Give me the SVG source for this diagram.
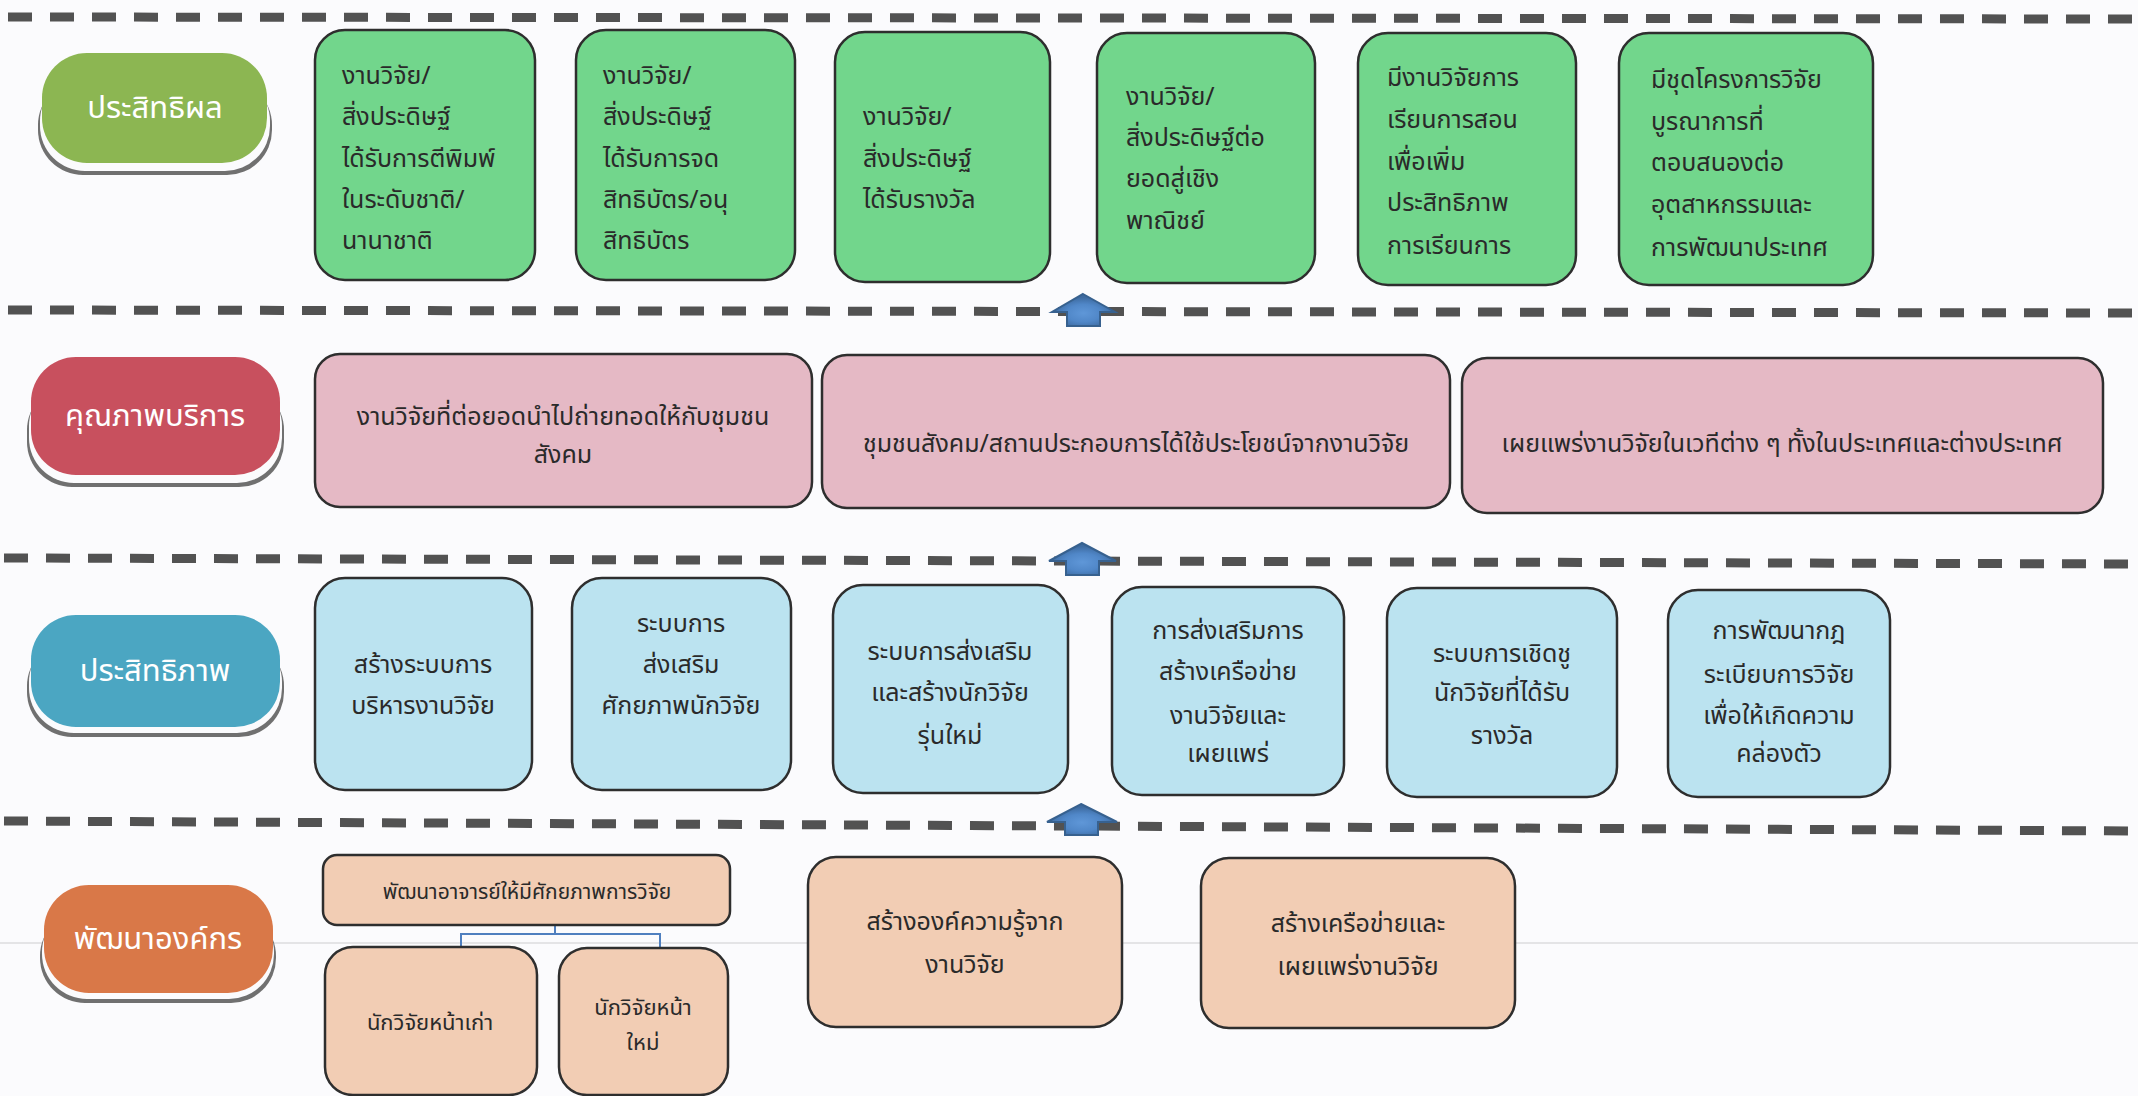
<svg xmlns="http://www.w3.org/2000/svg" width="2138" height="1096" viewBox="0 0 2138 1096">
<defs>
<style>
.t{font-family:"Noto Sans Thai","Noto Sans",Loma,Garuda,sans-serif;font-size:25px;fill:#2a2a2a}
.c{text-anchor:middle}
.pl{font-family:"Noto Sans Thai","Noto Sans",Loma,Garuda,sans-serif;font-size:31px;fill:#ffffff;text-anchor:middle}
.g{fill:#72d68c;stroke:#2e2e2e;stroke-width:2.5}
.p{fill:#e5b9c5;stroke:#2e2e2e;stroke-width:2.5}
.b{fill:#bbe3f0;stroke:#2e2e2e;stroke-width:2.5}
.o{fill:#f2cdb4;stroke:#2e2e2e;stroke-width:2.5}
.dash{stroke:#525252;stroke-width:9;stroke-dasharray:24 18;fill:none}
.sh{fill:#707070}
.shw{fill:#fbfbfd}
.arr{fill:url(#ag);stroke:#37618f;stroke-width:2}
.tree{stroke:#4f7fbf;stroke-width:2;fill:none}
</style>
<radialGradient id="ag" cx="0.5" cy="0.6" r="0.5">
<stop offset="0" stop-color="#5f97d8"/>
<stop offset="0.55" stop-color="#5087c8"/>
<stop offset="1" stop-color="#3d6a9f"/>
</radialGradient>
</defs>
<rect width="2138" height="1096" fill="#fbfbfd"/>
<line x1="0" y1="943" x2="2138" y2="943" stroke="#e4e4e6" stroke-width="2"/>

<g id="dividers">
<line class="dash" x1="8" y1="17" x2="2138" y2="19"/>
<line class="dash" x1="8" y1="310" x2="2138" y2="313"/>
<line class="dash" x1="4" y1="558" x2="2138" y2="564"/>
<line class="dash" x1="4" y1="821" x2="2138" y2="831"/>
</g>

<g id="connectors">
<path class="arr" d="M1083,294 L1115,312 L1100,312 L1100,326 L1067,326 L1067,312 L1052,312 Z"/>
<path class="arr" d="M1082,543 L1116,561 L1099,561 L1099,575 L1066,575 L1066,561 L1049,561 Z"/>
<path class="arr" d="M1081,804 L1117,822 L1098,822 L1098,835 L1065,835 L1065,822 L1047,822 Z"/>
<path class="tree" d="M555,925 V934 M461,947 V934 H660 V948"/>
</g>

<!-- Row 1 -->
<g id="label-prasitthiphon">
<rect class="sh" x="38" y="80" width="234" height="95" rx="45"/>
<rect class="shw" x="40" y="76" width="230" height="95" rx="45"/>
<rect x="42" y="53" width="225" height="110" rx="45" fill="#8cb652"/>
<text class="pl" x="155" y="118">ประสิทธิผล</text>
</g>
<g id="n1-1">
<rect class="g" x="315" y="30" width="220" height="250" rx="30"/>
<text class="t"><tspan x="342" y="84">งานวิจัย/</tspan><tspan x="342" y="125">สิ่งประดิษฐ์</tspan><tspan x="342" y="167">ได้รับการตีพิมพ์</tspan><tspan x="342" y="208">ในระดับชาติ/</tspan><tspan x="342" y="249">นานาชาติ</tspan></text>
</g>
<g id="n1-2">
<rect class="g" x="576" y="30" width="219" height="250" rx="30"/>
<text class="t"><tspan x="603" y="84">งานวิจัย/</tspan><tspan x="603" y="125">สิ่งประดิษฐ์</tspan><tspan x="603" y="167">ได้รับการจด</tspan><tspan x="603" y="208">สิทธิบัตร/อนุ</tspan><tspan x="603" y="249">สิทธิบัตร</tspan></text>
</g>
<g id="n1-3">
<rect class="g" x="835" y="32" width="215" height="250" rx="30"/>
<text class="t"><tspan x="863" y="125">งานวิจัย/</tspan><tspan x="863" y="167">สิ่งประดิษฐ์</tspan><tspan x="863" y="208">ได้รับรางวัล</tspan></text>
</g>
<g id="n1-4">
<rect class="g" x="1097" y="33" width="218" height="250" rx="30"/>
<text class="t"><tspan x="1126" y="105">งานวิจัย/</tspan><tspan x="1126" y="146">สิ่งประดิษฐ์ต่อ</tspan><tspan x="1126" y="187">ยอดสู่เชิง</tspan><tspan x="1126" y="229">พาณิชย์</tspan></text>
</g>
<g id="n1-5">
<rect class="g" x="1358" y="33" width="218" height="252" rx="30"/>
<text class="t"><tspan x="1387" y="86">มีงานวิจัยการ</tspan><tspan x="1387" y="128">เรียนการสอน</tspan><tspan x="1387" y="170">เพื่อเพิ่ม</tspan><tspan x="1387" y="211">ประสิทธิภาพ</tspan><tspan x="1387" y="254">การเรียนการ</tspan></text>
</g>
<g id="n1-6">
<rect class="g" x="1619" y="33" width="254" height="252" rx="30"/>
<text class="t"><tspan x="1651" y="88">มีชุดโครงการวิจัย</tspan><tspan x="1651" y="130">บูรณาการที่</tspan><tspan x="1651" y="171">ตอบสนองต่อ</tspan><tspan x="1651" y="213">อุตสาหกรรมและ</tspan><tspan x="1651" y="256">การพัฒนาประเทศ</tspan></text>
</g>

<!-- Row 2 -->
<g id="label-khunnaphap">
<rect class="sh" x="27" y="385" width="257" height="102" rx="45"/>
<rect class="shw" x="29" y="381" width="253" height="102" rx="45"/>
<rect x="31" y="357" width="249" height="118" rx="45" fill="#c8505e"/>
<text class="pl" x="155" y="426">คุณภาพบริการ</text>
</g>
<g id="n2-1">
<rect class="p" x="315" y="354" width="497" height="153" rx="25"/>
<text class="t c"><tspan x="563" y="425">งานวิจัยที่ต่อยอดนำไปถ่ายทอดให้กับชุมชน</tspan><tspan x="563" y="463">สังคม</tspan></text>
</g>
<g id="n2-2">
<rect class="p" x="822" y="355" width="628" height="153" rx="25"/>
<text class="t c" x="1136" y="452">ชุมชนสังคม/สถานประกอบการได้ใช้ประโยชน์จากงานวิจัย</text>
</g>
<g id="n2-3">
<rect class="p" x="1462" y="358" width="641" height="155" rx="25"/>
<text class="t c" x="1782" y="452">เผยแพร่งานวิจัยในเวทีต่าง ๆ ทั้งในประเทศและต่างประเทศ</text>
</g>

<!-- Row 3 -->
<g id="label-prasitthiphap">
<rect class="sh" x="27" y="641" width="257" height="96" rx="45"/>
<rect class="shw" x="29" y="637" width="253" height="96" rx="45"/>
<rect x="31" y="615" width="249" height="112" rx="45" fill="#4ba6c2"/>
<text class="pl" x="155" y="681">ประสิทธิภาพ</text>
</g>
<g id="n3-1">
<rect class="b" x="315" y="578" width="217" height="212" rx="30"/>
<text class="t c"><tspan x="423" y="673">สร้างระบบการ</tspan><tspan x="423" y="714">บริหารงานวิจัย</tspan></text>
</g>
<g id="n3-2">
<rect class="b" x="572" y="578" width="219" height="212" rx="30"/>
<text class="t c"><tspan x="681" y="632">ระบบการ</tspan><tspan x="681" y="673">ส่งเสริม</tspan><tspan x="681" y="714">ศักยภาพนักวิจัย</tspan></text>
</g>
<g id="n3-3">
<rect class="b" x="833" y="585" width="235" height="208" rx="30"/>
<text class="t c"><tspan x="950" y="660">ระบบการส่งเสริม</tspan><tspan x="950" y="701">และสร้างนักวิจัย</tspan><tspan x="950" y="744">รุ่นใหม่</tspan></text>
</g>
<g id="n3-4">
<rect class="b" x="1112" y="587" width="232" height="208" rx="30"/>
<text class="t c"><tspan x="1228" y="639">การส่งเสริมการ</tspan><tspan x="1228" y="680">สร้างเครือข่าย</tspan><tspan x="1228" y="724">งานวิจัยและ</tspan><tspan x="1228" y="762">เผยแพร่</tspan></text>
</g>
<g id="n3-5">
<rect class="b" x="1387" y="588" width="230" height="209" rx="30"/>
<text class="t c"><tspan x="1502" y="662">ระบบการเชิดชู</tspan><tspan x="1502" y="701">นักวิจัยที่ได้รับ</tspan><tspan x="1502" y="744">รางวัล</tspan></text>
</g>
<g id="n3-6">
<rect class="b" x="1668" y="590" width="222" height="207" rx="30"/>
<text class="t c"><tspan x="1779" y="639">การพัฒนากฎ</tspan><tspan x="1779" y="683">ระเบียบการวิจัย</tspan><tspan x="1779" y="724">เพื่อให้เกิดความ</tspan><tspan x="1779" y="762">คล่องตัว</tspan></text>
</g>

<!-- Row 4 -->
<g id="label-phatthana">
<rect class="sh" x="40" y="911" width="236" height="92" rx="45"/>
<rect class="shw" x="42" y="907" width="232" height="92" rx="45"/>
<rect x="44" y="885" width="229" height="108" rx="45" fill="#d97848"/>
<text class="pl" x="158" y="949">พัฒนาองค์กร</text>
</g>
<g id="n4-top">
<rect class="o" x="323" y="855" width="407" height="70" rx="14"/>
<text class="t c" style="font-size:21px" x="527" y="899">พัฒนาอาจารย์ให้มีศักยภาพการวิจัย</text>
</g>
<g id="n4-old">
<rect class="o" x="325" y="947" width="212" height="148" rx="28"/>
<text class="t c" style="font-size:22px" x="430" y="1030">นักวิจัยหน้าเก่า</text>
</g>
<g id="n4-new">
<rect class="o" x="559" y="948" width="169" height="147" rx="28"/>
<text class="t c" style="font-size:22px"><tspan x="643" y="1015">นักวิจัยหน้า</tspan><tspan x="643" y="1050">ใหม่</tspan></text>
</g>
<g id="n4-2">
<rect class="o" x="808" y="857" width="314" height="170" rx="28"/>
<text class="t c"><tspan x="965" y="930">สร้างองค์ความรู้จาก</tspan><tspan x="965" y="973">งานวิจัย</tspan></text>
</g>
<g id="n4-3">
<rect class="o" x="1201" y="858" width="314" height="170" rx="28"/>
<text class="t c"><tspan x="1358" y="932">สร้างเครือข่ายและ</tspan><tspan x="1358" y="975">เผยแพร่งานวิจัย</tspan></text>
</g>
</svg>
